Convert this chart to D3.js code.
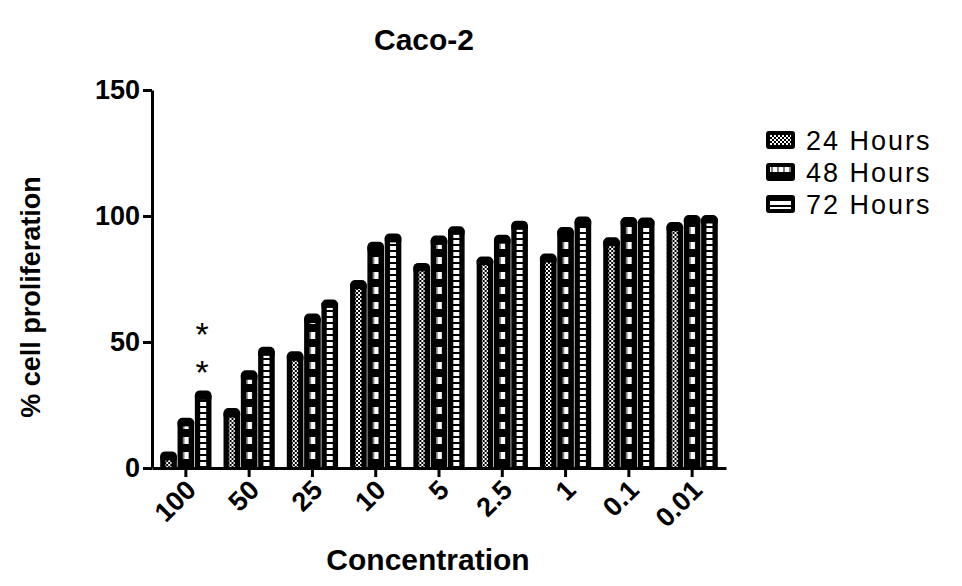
<!DOCTYPE html>
<html>
<head>
<meta charset="utf-8">
<script src="https://cdn.jsdelivr.net/npm/d3@7"></script>
<style>
  body { margin: 0; background: #fff; }
  svg text { font-family: "Liberation Sans", Arial, sans-serif; }
</style>
</head>
<body>
<div id="chart"></div>
<script>
// concentrations along the x axis
const categories = ['100', '50', '25', '10', '5', '2.5', '1', '0.1', '0.01'];
const seriesNames = ['24 Hours', '48 Hours', '72 Hours'];
// % cell proliferation
const h24 = [5, 22, 44.5, 73, 80, 82.5, 83.5, 90, 96];
const h48 = [18.5, 37, 59.5, 88, 90.5, 91, 94, 98, 99];
const h72 = [29, 46.5, 65.5, 91.5, 94.5, 96.5, 98, 98, 99];
// error bars (SEM) - small
const e24 = [0.8, 1, 1, 0.8, 0.6, 0.6, 0.8, 0.8, 0.8];
const e48 = [0.6, 1, 1, 1, 1, 0.8, 0.8, 0.8, 0.6];
const e72 = [1, 0.8, 0.6, 0.8, 0.6, 0.8, 1, 0.6, 0.6];
const yTicks = [0, 50, 100, 150];

const W = 962, H = 586;
const MARGIN = { TOP: 90, BOTTOM: 118, LEFT: 152, RIGHT: 236 };

const rows = categories.map((c, i) => ({
    cat: c,
    bars: [
        { s: 0, v: h24[i], e: e24[i] },
        { s: 1, v: h48[i], e: e48[i] },
        { s: 2, v: h72[i], e: e72[i] }
    ]
}));

const svg = d3.select('#chart')
    .append('svg')
    .attr('width', W)
    .attr('height', H);

// patterns for the three time points
const defs = svg.append('defs');
const p24 = defs.append('pattern').attr('id', 'p24')
    .attr('patternUnits', 'userSpaceOnUse').attr('width', 4).attr('height', 4);
p24.append('rect').attr('width', 4).attr('height', 4).attr('fill', '#000');
p24.append('rect').attr('width', 2).attr('height', 2).attr('fill', '#fff');
p24.append('rect').attr('x', 2).attr('y', 2).attr('width', 2).attr('height', 2).attr('fill', '#fff');

const p48 = defs.append('pattern').attr('id', 'p48')
    .attr('patternUnits', 'userSpaceOnUse').attr('width', 6).attr('height', 15);
p48.append('rect').attr('width', 6).attr('height', 15).attr('fill', '#000');
p48.append('rect').attr('x', 0.5).attr('y', 2).attr('width', 5).attr('height', 7).attr('fill', '#fff');

const p72 = defs.append('pattern').attr('id', 'p72')
    .attr('patternUnits', 'userSpaceOnUse').attr('width', 6).attr('height', 6);
p72.append('rect').attr('width', 6).attr('height', 6).attr('fill', '#000');
p72.append('rect').attr('width', 6).attr('height', 4).attr('fill', '#fff');

const patterns = ['url(#p24)', 'url(#p48)', 'url(#p72)'];

const y = d3.scaleLinear()
    .domain([0, 150])
    .range([H - MARGIN.BOTTOM, MARGIN.TOP]);

const x0 = d3.scaleBand()
    .domain(categories)
    .range([MARGIN.LEFT, W - MARGIN.RIGHT])
    .paddingInner(0.19)
    .paddingOuter(0.13);

const x1 = d3.scaleBand()
    .domain([0, 1, 2])
    .range([0, x0.bandwidth()])
    .paddingInner(0.04);

const bw = x1.bandwidth();
const stripW = 6;

// bars
const groups = svg.selectAll('.grp').data(rows).enter().append('g')
    .attr('class', 'grp')
    .attr('transform', d => `translate(${x0(d.cat)},0)`);

const bars = groups.selectAll('.bar').data(d => d.bars).enter().append('g')
    .attr('class', 'bar')
    .attr('transform', d => `translate(${x1(d.s)},0)`);

bars.append('rect')
    .attr('x', 0)
    .attr('y', d => y(d.v))
    .attr('width', bw)
    .attr('height', d => y(0) - y(d.v))
    .attr('fill', '#000');

// error cap, rounded
bars.append('rect')
    .attr('x', 0)
    .attr('y', d => y(d.v + d.e) - 2)
    .attr('width', bw)
    .attr('height', d => y(d.v) - y(d.v + d.e) + 10)
    .attr('rx', 5)
    .attr('fill', '#000');

bars.append('rect')
    .attr('x', (bw - stripW) / 2)
    .attr('y', d => y(d.v) + 5)
    .attr('width', stripW)
    .attr('height', d => Math.max(0, y(0) - y(d.v) - 5))
    .attr('fill', d => patterns[d.s]);

// significance stars over 100 / 72 h
const starX = x0('100') + x1(2) + bw / 2;
[66, 28].forEach(off => {
    svg.append('text')
        .attr('x', starX - 1)
        .attr('y', y(h72[0] + e72[0]) - off + 20)
        .attr('text-anchor', 'middle')
        .attr('font-size', 34)
        .text('*');
});

// axes
const yAxisCall = d3.axisLeft(y).tickValues(yTicks).tickSize(9).tickSizeOuter(0).tickPadding(3);
const yAxisGroup = svg.append('g')
    .attr('transform', `translate(${MARGIN.LEFT},0)`)
    .call(yAxisCall);

const xAxisCall = d3.axisBottom(x0).tickSize(9).tickSizeOuter(0);
const xAxisGroup = svg.append('g')
    .attr('transform', `translate(0,${y(0)})`)
    .call(xAxisCall);

[yAxisGroup, xAxisGroup].forEach(g => {
    g.select('.domain').attr('stroke-width', 3).attr('stroke', '#000');
    g.selectAll('.tick line').attr('stroke-width', 3).attr('stroke', '#000');
    g.selectAll('.tick text')
        .attr('fill', '#000')
        .attr('font-size', 27)
        .attr('font-weight', 'bold');
});

xAxisGroup.selectAll('.tick text')
    .attr('y', 0)
    .attr('dy', '0.35em')
    .attr('text-anchor', 'end')
    .attr('transform', 'translate(5,17) rotate(-45)');

// titles
svg.append('text')
    .attr('x', 424).attr('y', 50)
    .attr('text-anchor', 'middle')
    .attr('font-size', 30).attr('font-weight', 'bold')
    .text('Caco-2');

svg.append('text')
    .attr('x', 428).attr('y', 570)
    .attr('text-anchor', 'middle')
    .attr('font-size', 30).attr('font-weight', 'bold')
    .text('Concentration');

svg.append('text')
    .attr('transform', 'translate(40,297) rotate(-90)')
    .attr('text-anchor', 'middle')
    .attr('font-size', 27).attr('font-weight', 'bold')
    .text('% cell proliferation');

// legend
const legend = svg.selectAll('.leg').data(seriesNames).enter().append('g')
    .attr('class', 'leg')
    .attr('transform', (d, i) => `translate(766,${131 + i * 32})`);

legend.append('rect')
    .attr('width', 29).attr('height', 18).attr('rx', 3)
    .attr('fill', '#000');
legend.append('rect')
    .attr('x', 4).attr('y', 4).attr('width', 21).attr('height', 10)
    .attr('fill', (d, i) => patterns[i]);
legend.append('text')
    .attr('x', 40).attr('y', 9)
    .attr('dy', '0.36em')
    .attr('font-size', 27)
    .attr('letter-spacing', 2)
    .text(d => d);
</script>
</body>
</html>
